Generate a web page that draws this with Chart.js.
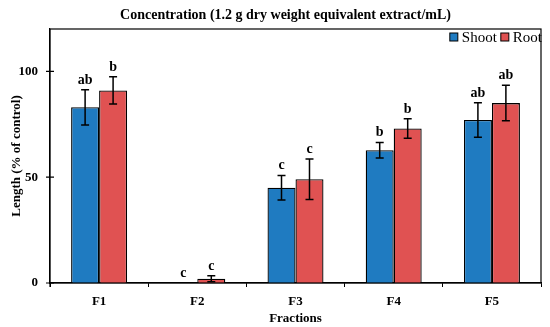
<!DOCTYPE html>
<html>
<head>
<meta charset="utf-8">
<script src="https://cdn.jsdelivr.net/npm/chart.js@4/dist/chart.umd.min.js"></script>
<style>
	html, body { margin: 0; padding: 0; background: #fff; }
	#wrap { width: 550px; height: 327px; }
</style>
</head>
<body>
<div id="wrap"><canvas id="chart"></canvas></div>
<script>
(function () {
	'use strict';

	const fractions = ['F1', 'F2', 'F3', 'F4', 'F5'];
	const shoot = [83, 0, 45, 62.7, 77];
	const shootErr = [8.3, 0, 5.8, 3.7, 8.2];
	const shootLetters = ['ab', 'c', 'c', 'b', 'ab'];
	const root = [91, 2, 49, 73, 85];
	const rootErr = [6.4, 1.4, 9.6, 4.6, 8.4];
	const rootLetters = ['b', 'c', 'c', 'b', 'ab'];
	const yTicks = [0, 50, 100];
	const title = 'Concentration (1.2 g dry weight equivalent extract/mL)';

	const serif = '"Liberation Serif", "DejaVu Serif", serif';
	const errors = [shootErr, rootErr];
	const letters = [shootLetters, rootLetters];

	// error bars + significance letters, drawn on the library scales
	const errorBars = {
		id: 'errorBars',
		afterDatasetsDraw(chart) {
			const ctx = chart.ctx;
			const y = chart.scales.y;
			ctx.save();
			ctx.strokeStyle = '#000';
			ctx.lineWidth = 1.5;
			ctx.fillStyle = '#000';
			ctx.font = 'bold 14px ' + serif;
			ctx.textAlign = 'center';
			ctx.textBaseline = 'alphabetic';
			chart.data.datasets.forEach(function(ds, i) {
				chart.getDatasetMeta(i).data.forEach(function(bar, j) {
					const v = ds.data[j];
					const e = errors[i][j];
					const x = bar.x;
					const top = y.getPixelForValue(v + e);
					const bot = y.getPixelForValue(v - e);
					if (e > 0) {
						ctx.beginPath();
						ctx.moveTo(x, top); ctx.lineTo(x, bot);
						ctx.moveTo(x - 4, top); ctx.lineTo(x + 4, top);
						ctx.moveTo(x - 4, bot); ctx.lineTo(x + 4, bot);
						ctx.stroke();
					}
					ctx.fillText(letters[i][j], x, top - 6);
				});
			});
			ctx.restore();
		}
	};

	// box round the plot, crossing y ticks, title and legend
	const frame = {
		id: 'frame',
		afterDraw(chart) {
			const a = chart.chartArea;
			const ctx = chart.ctx;
			const y = chart.scales.y;
			ctx.save();
			ctx.strokeStyle = '#000';
			ctx.lineWidth = 1.2;
			ctx.strokeRect(a.left, a.top, a.right - a.left, a.bottom - a.top);
			ctx.beginPath();
			yTicks.forEach(function(v) {
				const py = y.getPixelForValue(v);
				ctx.moveTo(a.left - 4, py); ctx.lineTo(a.left + 4, py);
			});
			ctx.moveTo(a.left, a.bottom); ctx.lineTo(a.left, a.bottom + 4);
			ctx.stroke();

			ctx.fillStyle = '#000';
			ctx.font = 'bold 14px ' + serif;
			ctx.textAlign = 'center';
			ctx.textBaseline = 'middle';
			ctx.fillText(title, 285.5, 15);

			// legend, laid out from the right edge
			ctx.font = '15px ' + serif;
			ctx.textAlign = 'left';
			let x = a.right + 1;
			const ly = a.top + 8;
			const ds = chart.data.datasets.slice().reverse();
			ds.forEach(function(d) {
				const w = ctx.measureText(d.label).width;
				x -= w;
				ctx.fillStyle = '#000';
				ctx.fillText(d.label, x, ly + 1);
				x -= 12;
				ctx.fillStyle = d.backgroundColor;
				ctx.fillRect(x, ly - 4, 8, 8);
				ctx.lineWidth = 1;
				ctx.strokeRect(x, ly - 4, 8, 8);
				x -= 4;
			});
			ctx.restore();
		}
	};

	new Chart(document.getElementById('chart'), {
		type: 'bar',
		data: {
			labels: fractions,
			datasets: [
				{ label: 'Shoot', data: shoot, backgroundColor: '#1f7bc1', borderColor: '#000', borderWidth: 1.3 },
				{ label: 'Root', data: root, backgroundColor: '#e05252', borderColor: '#000', borderWidth: 1.3 }
			]
		},
		options: {
			responsive: true,
			maintainAspectRatio: false,
			animation: false,
			layout: { padding: { top: 29, right: 9, left: 6, bottom: 0 } },
			datasets: { bar: { barPercentage: 1, categoryPercentage: 0.57 } },
			plugins: {
				legend: { display: false },
				tooltip: { enabled: false }
			},
			scales: {
				x: {
					afterFit(axis) { axis.height = 44; },
					grid: { display: true, drawOnChartArea: false, offset: true, color: '#000', tickLength: 4 },
					border: { color: '#000', width: 1.2 },
					ticks: { color: '#000', font: { family: serif, size: 13, weight: 'bold' }, padding: 7 },
					title: { display: true, text: 'Fractions', color: '#000', font: { family: serif, size: 13, weight: 'bold' }, padding: { top: 0, bottom: 1 } }
				},
				y: {
					min: 0,
					max: 120,
					afterBuildTicks(axis) {
						axis.ticks = yTicks.map(function(v) { return { value: v }; });
					},
					afterFit(axis) { axis.width = 44; },
					grid: { display: false, drawTicks: false },
					border: { color: '#000', width: 1.2 },
					ticks: { color: '#000', font: { family: serif, size: 13, weight: 'bold' }, padding: 12 },
					title: { display: true, text: 'Length (% of control)', color: '#000', font: { family: serif, size: 13, weight: 'bold' }, padding: { top: 3, bottom: 0 } }
				}
			}
		},
		plugins: [errorBars, frame]
	});
})();
</script>
</body>
</html>
